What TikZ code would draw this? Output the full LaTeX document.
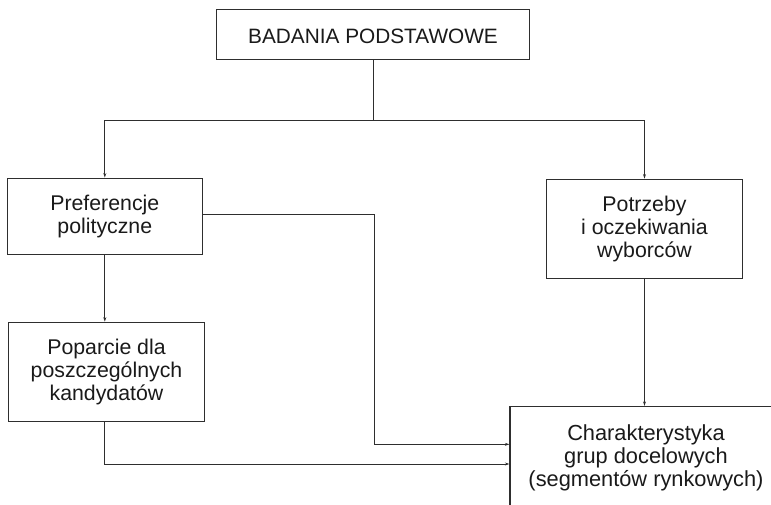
\documentclass[tikz,border=0pt]{standalone}
\usepackage{fontspec}
\setmainfont{Liberation Sans}
\usetikzlibrary{arrows.meta}
\definecolor{ink}{HTML}{2E2E2E}
\definecolor{letter}{HTML}{1A1A1A}
\begin{document}
\begin{tikzpicture}[x=1pt,y=1pt,
  stagebox/.style={draw=ink, line width=1.3pt, fill=white, inner sep=0pt,
    align=center, text=letter, font=\fontsize{21.3}{23}\selectfont},
  link/.style={draw=ink, line width=1pt,
    -{Stealth[length=4.5pt,width=3pt]}},
  plain/.style={draw=ink, line width=1pt}]
\useasboundingbox (0,0) rectangle (771,-505);
\clip (0,0) rectangle (771,-505);

% boxes
\node[stagebox, minimum width=312.6pt, minimum height=50pt,
  font=\fontsize{20.8}{23}\selectfont, text height=21pt, text depth=3pt]
  (top) at (373,-34.3) {BADANIA PODSTAWOWE};
\node[stagebox, minimum width=195pt, minimum height=76pt]
  (pref) at (104.8,-216.2) {Preferencje\\polityczne};
\node[stagebox, minimum width=196pt, minimum height=99pt]
  (potr) at (644.5,-228.7) {Potrzeby\\i oczekiwania\\wyborców};
\node[stagebox, minimum width=195.5pt, minimum height=99.4pt]
  (pop) at (106.5,-372) {Poparcie dla\\poszczególnych\\kandydatów};
\node[stagebox, minimum width=272pt, minimum height=103pt,
  font=\fontsize{21.8}{23.2}\selectfont]
  (char) at (646,-458) {Charakterystyka\\grup docelowych\\(segmentów rynkowych)};

% junction points of the connectors
\coordinate (bus) at (373,-120.7);
\coordinate (bendA) at (374,-214.3);
\coordinate (bendB) at (374,-444.3);
\coordinate (bendC) at (104.8,-464);

% top box to the two research areas
\draw[plain] (top.south) -- (bus);
\draw[link] (bus) -| (pref.north);
\draw[link] (bus) -| (potr.north);

% preferences to support for candidates
\draw[link] (pref.south) -- (pref.south |- pop.north);

% all three feed the target-group profile
\draw[link] (pref.east |- bendA) -- (bendA) -- (bendB) -- (char.west |- bendB);
\draw[link] (pop.south -| bendC) -- (bendC) -- (char.west |- bendC);
\draw[link] (potr.south) -- (potr.south |- char.north);
\end{tikzpicture}
\end{document}
